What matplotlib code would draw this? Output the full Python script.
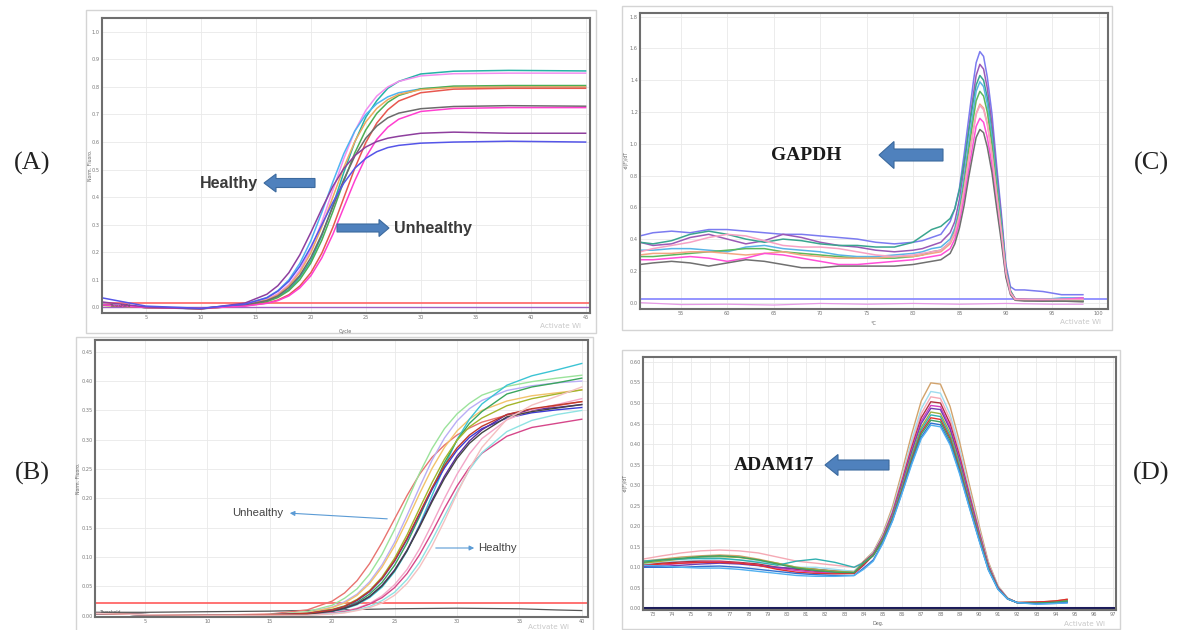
import matplotlib.pyplot as plt
from matplotlib.patches import Rectangle, FancyArrow, FancyArrowPatch
from matplotlib.transforms import IdentityTransform

W, H = 1177, 630

# ---------------- (A) amplification plot, upper left ----------------
a_cycle = [1, 5, 10, 14, 16, 17, 18, 19, 20, 21, 22, 23, 24, 25, 26, 27, 28, 30, 33, 38, 45]
a_teal = [0.01, 0.0, -0.005, 0.008, 0.025, 0.04, 0.065, 0.11, 0.17, 0.26, 0.37, 0.49, 0.60, 0.69, 0.75, 0.795, 0.82, 0.847, 0.857, 0.86, 0.858]
a_pink = [0.01, 0.0, -0.005, 0.01, 0.03, 0.05, 0.083, 0.135, 0.21, 0.31, 0.425, 0.54, 0.64, 0.715, 0.767, 0.80, 0.82, 0.84, 0.848, 0.85, 0.85]
a_lightblue = [0.012, 0.0, -0.004, 0.012, 0.036, 0.061, 0.10, 0.16, 0.242, 0.345, 0.455, 0.558, 0.64, 0.70, 0.739, 0.764, 0.779, 0.793, 0.80, 0.80, 0.80]
a_green = [0.008, 0.0, -0.004, 0.007, 0.021, 0.036, 0.061, 0.101, 0.161, 0.244, 0.347, 0.458, 0.561, 0.644, 0.704, 0.744, 0.769, 0.793, 0.803, 0.805, 0.805]
a_orange = [0.008, 0.0, -0.004, 0.01, 0.027, 0.046, 0.078, 0.127, 0.198, 0.292, 0.40, 0.508, 0.602, 0.673, 0.722, 0.754, 0.773, 0.79, 0.798, 0.80, 0.80]
a_red = [0.01, 0.0, -0.004, 0.006, 0.016, 0.027, 0.046, 0.078, 0.126, 0.197, 0.29, 0.398, 0.505, 0.598, 0.669, 0.717, 0.749, 0.779, 0.792, 0.795, 0.795]
a_grey = [0.01, 0.0, -0.003, 0.009, 0.025, 0.042, 0.072, 0.116, 0.181, 0.266, 0.365, 0.464, 0.549, 0.614, 0.658, 0.688, 0.705, 0.721, 0.729, 0.732, 0.73]
a_magenta = [0.01, 0.0, -0.003, 0.005, 0.015, 0.025, 0.042, 0.071, 0.115, 0.18, 0.265, 0.363, 0.46, 0.545, 0.61, 0.654, 0.683, 0.711, 0.722, 0.725, 0.725]
a_purple = [0.02, 0.002, -0.005, 0.016, 0.048, 0.079, 0.126, 0.191, 0.272, 0.358, 0.439, 0.504, 0.551, 0.582, 0.602, 0.614, 0.621, 0.632, 0.636, 0.632, 0.632]
a_blue = [0.035, 0.005, -0.003, 0.012, 0.035, 0.059, 0.095, 0.149, 0.219, 0.30, 0.381, 0.451, 0.505, 0.541, 0.565, 0.58, 0.588, 0.596, 0.60, 0.603, 0.60]
a_threshold = 0.018
a_ntc = 0.003

# ---------------- (B) amplification plot, lower left ----------------
b_cycle = [1, 5, 10, 15, 18, 20, 21, 22, 23, 24, 25, 26, 27, 28, 29, 30, 31, 32, 34, 36, 38, 40]
b_red = [.004, .002, .001, .003, .01, .025, .039, .06, .089, .125, .165, .205, .241, .27, .291, .308, .32, .33, .342, .35, .358, .365]
b_lightgreen = [.004, .002, .001, .002, .007, .018, .03, .046, .071, .105, .147, .195, .243, .285, .319, .344, .362, .376, .391, .399, .405, .41]
b_lavender = [.004, .002, .001, .002, .005, .015, .024, .037, .058, .087, .125, .171, .219, .265, .303, .332, .353, .367, .384, .392, .397, .40]
b_yellow = [.004, .002, .001, .002, .005, .014, .022, .035, .055, .083, .119, .162, .208, .251, .287, .315, .335, .35, .366, .375, .38, .385]
b_teal = [.004, .002, .001, .001, .003, .007, .012, .019, .031, .049, .075, .11, .155, .205, .255, .30, .335, .361, .393, .409, .419, .43]
b_green = [.004, .002, .001, .001, .003, .009, .014, .023, .037, .057, .086, .124, .169, .216, .261, .299, .328, .348, .378, .39, .397, .405]
b_olive = [.004, .002, .001, .002, .004, .011, .017, .028, .043, .066, .098, .138, .183, .227, .267, .299, .322, .337, .358, .37, .378, .385]
b_blue = [.004, .002, .001, .002, .004, .01, .016, .026, .041, .063, .093, .13, .173, .215, .252, .282, .304, .319, .337, .346, .351, .355]
b_purple = [.004, .002, .001, .001, .003, .008, .013, .021, .033, .052, .078, .112, .153, .197, .238, .272, .298, .317, .343, .351, .355, .36]
b_pink = [.004, .002, .001, .001, .002, .005, .008, .013, .021, .034, .053, .079, .114, .156, .20, .241, .276, .302, .334, .351, .36, .37]
b_magenta = [.004, .002, .001, .001, .002, .005, .007, .012, .02, .031, .048, .072, .104, .142, .183, .221, .253, .277, .306, .321, .328, .335]
b_cyan = [.004, .002, .001, .001, .001, .004, .006, .01, .016, .026, .04, .062, .091, .129, .17, .211, .249, .278, .314, .333, .343, .35]
b_grey = [.004, .002, .001, .001, .003, .008, .013, .02, .033, .051, .077, .111, .151, .194, .234, .268, .294, .312, .339, .348, .354, .36]
b_darkred = [.004, .002, .001, .002, .004, .01, .016, .027, .042, .064, .094, .132, .175, .218, .256, .286, .308, .323, .343, .353, .359, .365]
b_palepink = [.004, .002, .001, .001, .001, .003, .005, .009, .014, .022, .035, .055, .083, .119, .162, .208, .251, .287, .335, .359, .374, .39]
b_threshold = 0.022
b_ntc_cycle = [1, 5, 10, 15, 20, 25, 30, 35, 38, 40]
b_ntc = [0.006, 0.006, 0.007, 0.008, 0.01, 0.012, 0.013, 0.012, 0.01, 0.009]

# ---------------- (C) GAPDH melt peak, upper right ----------------
c_temp = [50.6, 52, 54, 56, 58, 60, 62, 64, 66, 68, 70, 72, 74, 76, 78, 80, 81, 82, 83,
          84, 84.5, 85, 85.5, 86, 86.5, 86.8, 87.2, 87.6, 88, 88.5, 89, 89.5, 90, 90.5, 91, 92, 94, 96, 98.3]
c_periwinkle = [.42, .44, .45, .44, .46, .46, .45, .44, .43, .43, .42, .41, .40, .38, .37, .38, .39, .41, .43,
                .51, .59, .72, .93, 1.16, 1.39, 1.51, 1.58, 1.55, 1.42, 1.19, .87, .57, .24, .10, .08, .08, .07, .05, .05]
c_purple = [.38, .36, .37, .41, .43, .40, .37, .39, .43, .41, .38, .36, .35, .33, .32, .33, .34, .36, .38,
            .44, .51, .65, .85, 1.09, 1.31, 1.43, 1.50, 1.47, 1.35, 1.125, .825, .54, .225, .075, .025, .02, .01, .02, .02]
c_teal = [.38, .37, .39, .43, .45, .43, .40, .38, .40, .39, .37, .36, .36, .35, .35, .38, .42, .46, .48,
          .53, .59, .71, .88, 1.08, 1.27, 1.37, 1.43, 1.40, 1.29, 1.07, .79, .51, .21, .07, .02, .02, .015, .01, .01]
c_lightblue = [.33, .33, .34, .34, .33, .32, .35, .36, .34, .33, .32, .30, .29, .29, .30, .31, .32, .34, .35,
               .40, .47, .60, .79, 1.01, 1.21, 1.33, 1.39, 1.36, 1.25, 1.04, .76, .50, .21, .07, .02, .02, .02, .03, .03]
c_green = [.29, .29, .30, .31, .32, .33, .34, .34, .32, .31, .30, .29, .28, .28, .28, .29, .30, .32, .33,
           .38, .45, .57, .75, .96, 1.16, 1.27, 1.33, 1.30, 1.20, 1.0, .73, .48, .20, .07, .02, .015, .01, .01, .01]
c_salmon = [.30, .31, .31, .32, .32, .31, .30, .31, .32, .30, .29, .28, .28, .28, .29, .29, .30, .31, .32,
            .37, .43, .54, .71, .91, 1.09, 1.19, 1.25, 1.225, 1.13, .94, .69, .45, .19, .06, .02, .02, .02, .02, .02]
c_magenta = [.27, .27, .28, .29, .28, .26, .28, .31, .30, .28, .26, .24, .24, .25, .26, .27, .28, .29, .30,
             .34, .40, .51, .66, .84, 1.01, 1.11, 1.16, 1.135, 1.04, .87, .64, .42, .17, .06, .02, .02, .015, .02, .03]
c_grey = [.24, .25, .26, .25, .23, .25, .27, .26, .24, .22, .22, .23, .23, .23, .23, .24, .25, .26, .27,
          .31, .37, .47, .61, .79, .95, 1.04, 1.09, 1.07, .98, .82, .60, .39, .16, .05, .015, .01, .01, .01, .005]
c_pink = [.32, .34, .36, .38, .41, .43, .42, .39, .36, .35, .35, .34, .32, .30, .29, .30, .31, .32, .33,
          .38, .44, .55, .71, .90, 1.08, 1.185, 1.24, 1.215, 1.12, .93, .68, .45, .19, .06, .02, .02, .02, .02, .02]
c_blank = 0.02
c_ntc_temp = [50.6, 55, 60, 65, 70, 75, 80, 85, 90, 95, 98.3]
c_ntc = [0.0, -0.012, -0.01, -0.015, -0.005, -0.01, -0.005, -0.01, -0.005, -0.01, -0.01]

# ---------------- (D) ADAM17 melt peak, lower right ----------------
d_temp = [72.5, 73.5, 74.5, 75.5, 76.5, 77.5, 78.5, 79.5, 80.5, 81.5, 82.5, 83.5,
          84, 84.5, 85, 85.5, 86, 86.5, 87, 87.5, 88, 88.5, 89, 89.5, 90, 90.5, 91, 91.5, 92, 93, 94, 94.6]
d_tan = [.115, .12, .125, .128, .13, .128, .12, .11, .10, .095, .092, .09,
         .115, .138, .183, .247, .333, .424, .505, .549, .546, .492, .405, .303, .205, .113, .055, .025, .014, .015, .018, .022]
d_cyan = [.11, .112, .115, .118, .12, .118, .115, .108, .10, .10, .095, .09,
          .114, .136, .179, .240, .322, .409, .486, .528, .524, .473, .389, .291, .197, .109, .053, .025, .014, .013, .015, .018]
d_pink = [.12, .128, .135, .14, .142, .14, .135, .125, .115, .11, .105, .10,
          .113, .134, .176, .235, .316, .399, .474, .515, .511, .461, .379, .284, .193, .107, .052, .025, .014, .014, .016, .02]
d_maroon = [.105, .11, .113, .115, .115, .112, .108, .10, .095, .09, .088, .087,
            .113, .133, .174, .232, .310, .391, .464, .503, .500, .450, .370, .278, .188, .105, .051, .024, .014, .015, .017, .02]
d_magenta = [.102, .105, .11, .112, .113, .11, .105, .098, .092, .088, .086, .086,
             .108, .132, .172, .229, .305, .385, .456, .494, .491, .442, .363, .273, .185, .103, .050, .024, .014, .013, .015, .017]
d_purple = [.10, .102, .105, .108, .11, .108, .104, .10, .097, .095, .09, .085,
            .105, .131, .171, .226, .301, .380, .450, .487, .484, .436, .358, .269, .182, .101, .050, .024, .014, .012, .013, .015]
d_olive = [.11, .115, .12, .125, .126, .124, .118, .11, .10, .095, .09, .088,
           .111, .130, .169, .223, .296, .373, .441, .478, .474, .427, .351, .263, .179, .100, .049, .024, .014, .014, .016, .02]
d_teal = [.115, .118, .12, .122, .122, .118, .112, .105, .115, .12, .112, .10,
          .111, .130, .167, .221, .293, .368, .435, .471, .467, .420, .346, .259, .176, .098, .048, .023, .014, .012, .014, .016]
d_red = [.105, .108, .11, .112, .112, .11, .105, .095, .088, .085, .084, .085,
         .106, .129, .166, .218, .289, .363, .429, .464, .460, .414, .340, .256, .174, .097, .048, .023, .014, .015, .018, .022]
d_green = [.112, .118, .122, .126, .128, .125, .118, .108, .098, .092, .088, .087,
           .110, .128, .165, .216, .286, .359, .424, .458, .454, .409, .336, .252, .171, .096, .047, .023, .014, .013, .015, .018]
d_blue = [.10, .10, .10, .102, .103, .10, .095, .09, .085, .082, .08, .08,
          .098, .118, .160, .214, .282, .354, .417, .451, .447, .402, .331, .248, .169, .094, .047, .023, .014, .011, .012, .014]
d_sky = [.105, .103, .10, .098, .098, .095, .09, .085, .08, .078, .078, .08,
         .095, .115, .158, .212, .280, .350, .413, .446, .442, .398, .327, .246, .167, .093, .046, .023, .014, .01, .012, .013]
d_zero = 0.0

fig = plt.figure(figsize=(W / 100, H / 100), dpi=100)
fig.patch.set_facecolor("white")


def px_axes(left, top, right, bottom):
    return fig.add_axes([left / W, 1 - bottom / H, (right - left) / W, (bottom - top) / H])


def window(left, top, right, bottom):
    fig.add_artist(Rectangle((left / W, 1 - bottom / H), (right - left) / W, (bottom - top) / H,
                             transform=fig.transFigure, fill=False, ec="#d4d4d4", lw=1.0))


def style(ax, xlim, ylim, xticks, yticks, yfmt):
    ax.set_xlim(xlim)
    ax.set_ylim(ylim)
    ax.set_xticks(xticks)
    ax.set_xticklabels([str(t) for t in xticks])
    ax.set_yticks(yticks)
    ax.set_yticklabels([yfmt.format(t) for t in yticks])
    ax.tick_params(length=0, labelsize=3.6, labelcolor="#777777", pad=1.5)
    ax.grid(True, color="#e9e9e9", lw=0.6)
    ax.set_axisbelow(True)
    for s in ax.spines.values():
        s.set_color("#6e6e6e")
        s.set_linewidth(1.5)


def txt(x, y, s, **kw):
    fig.text(x / W, 1 - y / H, s, **kw)


def block_arrow(x0, x1, y, shaft, head, head_len):
    fig.add_artist(FancyArrow(x0, H - y, x1 - x0, 0, width=shaft, head_width=head, head_length=head_len,
                              length_includes_head=True, transform=IdentityTransform(),
                              fc="#4f81bd", ec="#3c6a9e", lw=0.8))


def thin_arrow(x0, y0, x1, y1):
    fig.add_artist(FancyArrowPatch((x0, H - y0), (x1, H - y1), transform=IdentityTransform(),
                                   arrowstyle="-|>", mutation_scale=7, lw=0.8, color="#5b9bd5"))


# window frames of the four screenshots
window(86, 10, 596, 333)
window(76, 337, 593, 632)
window(622, 6, 1112, 330)
window(622, 350, 1120, 629)

# ---- A ----
axA = px_axes(102, 18, 590, 313)
style(axA, (1, 45.4), (-0.02, 1.05), [5, 10, 15, 20, 25, 30, 35, 40, 45],
      [i / 10 for i in range(11)], "{:.1f}")
axA.axhline(a_threshold, color="#ff6f6f", lw=1.3)
axA.axhline(a_ntc, color="#a060c0", lw=1.0)
a_series = [(a_teal, "#25b3a6"), (a_pink, "#f38df0"), (a_lightblue, "#4fb4f2"), (a_green, "#4cae55"),
            (a_orange, "#f0a860"), (a_red, "#e8574f"), (a_grey, "#6b6b6b"), (a_magenta, "#ff3fd0"),
            (a_purple, "#8e3f9e"), (a_blue, "#5555e8")]
for ys, col in a_series:
    axA.plot(a_cycle, ys, color=col, lw=1.1)
axA.text(1.6, 0.002, "Threshold", fontsize=3.2, color="#555555")

# ---- B ----
axB = px_axes(95, 340, 588, 617)
style(axB, (1, 40.5), (-0.002, 0.47), [5, 10, 15, 20, 25, 30, 35, 40],
      [i * 0.05 for i in range(10)], "{:.2f}")
axB.axhline(b_threshold, color="#ff5a5a", lw=1.2)
axB.plot(b_ntc_cycle, b_ntc, color="#555555", lw=0.9)
b_series = [(b_red, "#e8736f"), (b_lightgreen, "#9be39b"), (b_lavender, "#b9aef5"), (b_yellow, "#f2c36b"),
            (b_teal, "#3cc4d4"), (b_green, "#3aa55d"), (b_olive, "#a3b52b"), (b_blue, "#3a3ad6"),
            (b_purple, "#5b2a9e"), (b_pink, "#f3a6c8"), (b_magenta, "#d6478a"), (b_cyan, "#8fe3e3"),
            (b_grey, "#454545"), (b_darkred, "#c0392b"), (b_palepink, "#f5c0c0")]
for ys, col in b_series:
    axB.plot(b_cycle, ys, color=col, lw=1.0)
axB.text(1.3, 0.004, "Threshold", fontsize=3.2, color="#555555")

# ---- C ----
axC = px_axes(640, 13, 1108, 309)
style(axC, (50.6, 101), (-0.04, 1.823), [55, 60, 65, 70, 75, 80, 85, 90, 95, 100],
      [i * 0.2 for i in range(10)], "{:.1f}")
axC.axhline(c_blank, color="#8c8cff", lw=1.3)
axC.plot(c_ntc_temp, c_ntc, color="#e69ae6", lw=0.9)
c_series = [(c_periwinkle, "#7b7bf0"), (c_purple, "#9b59b6"), (c_teal, "#3aa58f"), (c_lightblue, "#5ab4e6"),
            (c_green, "#5cb85c"), (c_salmon, "#f4a582"), (c_magenta, "#ff4fd8"), (c_grey, "#707070"),
            (c_pink, "#f7a1c4")]
for ys, col in c_series:
    axC.plot(c_temp, ys, color=col, lw=1.1)

# ---- D ----
axD = px_axes(643, 357, 1116, 610)
style(axD, (72.5, 97.15), (-0.004, 0.612), list(range(73, 98)),
      [i * 0.05 for i in range(13)], "{:.2f}")
d_series = [(d_tan, "#d2a36c"), (d_cyan, "#9fdcef"), (d_pink, "#f5a9b4"), (d_maroon, "#b03040"),
            (d_magenta, "#d040c0"), (d_purple, "#7040b0"), (d_olive, "#a0b040"), (d_teal, "#30b0b0"),
            (d_red, "#e03030"), (d_green, "#40a060"), (d_blue, "#3070d0"), (d_sky, "#50b0f0")]
for ys, col in d_series:
    axD.plot(d_temp, ys, color=col, lw=1.0)
axD.axhline(d_zero, color="#1c1c5a", lw=2.2)

# axis titles (tiny, as in the screenshots)
txt(345, 331, "Cycle", fontsize=3.5, color="#666666", ha="center", va="center")
txt(873, 324, "°C", fontsize=3.5, color="#666666", ha="center", va="center")
txt(878, 624, "Deg.", fontsize=3.5, color="#666666", ha="center", va="center")
txt(90, 165, "Norm. Fluoro.", fontsize=3.3, color="#666666", ha="center", va="center", rotation=90)
txt(79, 478, "Norm. Fluoro.", fontsize=3.3, color="#666666", ha="center", va="center", rotation=90)
txt(626, 160, "-d(F)/dT", fontsize=3.3, color="#666666", ha="center", va="center", rotation=90)
txt(625, 483, "-d(F)/dT", fontsize=3.3, color="#666666", ha="center", va="center", rotation=90)

# watermark remnants (kept clear of the tick labels)
for x, y in [(560, 326), (548, 627), (1080, 322), (1085, 624)]:
    txt(x, y, "Activate Wi", fontsize=5.2, color="#c8c8c8", ha="center", va="center")

# annotations
sans = ["Liberation Sans", "DejaVu Sans"]
serif = ["Liberation Serif", "DejaVu Serif"]
txt(229, 183, "Healthy", fontsize=11.5, fontweight="bold", color="#3a3a3a", ha="center", va="center", family=sans)
block_arrow(315, 264, 183, 9, 18, 12)
txt(433, 228, "Unhealthy", fontsize=11.5, fontweight="bold", color="#3a3a3a", ha="center", va="center", family=sans)
block_arrow(337, 389, 228, 8, 17, 10)

txt(258, 513, "Unhealthy", fontsize=8.2, color="#444444", ha="center", va="center", family=sans)
thin_arrow(390, 519, 287, 513)
txt(497, 548, "Healthy", fontsize=8.2, color="#444444", ha="center", va="center", family=sans)
thin_arrow(433, 548, 477, 548)

txt(806, 156, "GAPDH", fontsize=14, fontweight="bold", color="#1a1a1a", ha="center", va="center", family=serif)
block_arrow(943, 879, 155, 12, 27, 15)
txt(774, 465, "ADAM17", fontsize=14, fontweight="bold", color="#1a1a1a", ha="center", va="center", family=serif)
block_arrow(889, 825, 465, 10, 21, 13)

# panel letters
for x, y, s in [(32, 163, "(A)"), (32, 473, "(B)"), (1151, 163, "(C)"), (1151, 473, "(D)")]:
    txt(x, y, s, fontsize=19, color="#222222", ha="center", va="center", family=serif)

fig.savefig("out.png", dpi=100)
